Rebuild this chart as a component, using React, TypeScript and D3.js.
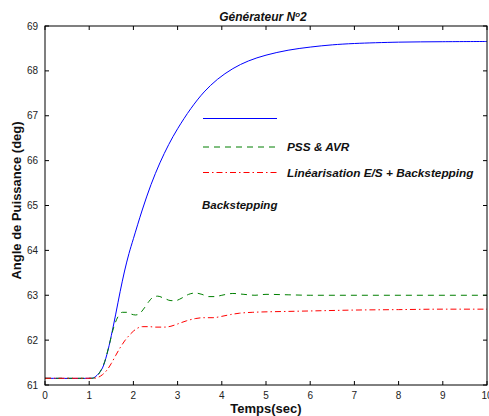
import React from "react";
import * as d3 from "d3";

const xTicks = [0, 1, 2, 3, 4, 5, 6, 7, 8, 9, 10];
const yTicks = [61, 62, 63, 64, 65, 66, 67, 68, 69];

const timeBlue = [0, 1.0, 1.1, 1.2, 1.3, 1.4, 1.5, 1.6, 1.7, 1.8, 1.9, 2.0, 2.2, 2.4, 2.6, 2.8, 3.0, 3.3, 3.6, 3.9, 4.25, 4.6, 5.0, 5.5, 6.0, 6.5, 7, 8, 9, 10];
const backstepping = [61.15, 61.15, 61.16, 61.24, 61.38, 61.68, 62.1, 62.58, 63.08, 63.54, 63.93, 64.26, 64.9, 65.47, 65.95, 66.36, 66.71, 67.16, 67.53, 67.81, 68.05, 68.22, 68.35, 68.46, 68.53, 68.58, 68.61, 68.64, 68.65, 68.655];

const timeGreen = [0, 1.05, 1.15, 1.25, 1.35, 1.45, 1.55, 1.65, 1.75, 1.85, 1.95, 2.05, 2.15, 2.25, 2.35, 2.45, 2.55, 2.7, 2.85, 2.95, 3.1, 3.25, 3.4, 3.55, 3.7, 3.85, 4.0, 4.25, 4.5, 4.75, 5.0, 5.5, 6, 10];
const pssAvr = [61.15, 61.15, 61.17, 61.3, 61.52, 61.88, 62.27, 62.52, 62.62, 62.62, 62.58, 62.56, 62.6, 62.72, 62.86, 62.96, 62.98, 62.93, 62.88, 62.88, 62.94, 63.02, 63.05, 63.02, 62.97, 62.97, 63.0, 63.04, 63.02, 63.0, 63.02, 63.01, 63.0, 63.0];

const timeRed = [0, 1.1, 1.2, 1.3, 1.4, 1.5, 1.6, 1.7, 1.8, 1.9, 2.0, 2.1, 2.2, 2.35, 2.5, 2.7, 2.85, 3.0, 3.2, 3.4, 3.6, 3.8, 4.0, 4.2, 4.4, 4.7, 5, 5.5, 6, 7, 8, 9, 10];
const linBackstepping = [61.15, 61.15, 61.17, 61.23, 61.33, 61.48, 61.66, 61.83, 61.98, 62.1, 62.2, 62.27, 62.3, 62.3, 62.29, 62.29, 62.31, 62.36, 62.43, 62.48, 62.5, 62.5, 62.53, 62.57, 62.6, 62.62, 62.63, 62.64, 62.65, 62.67, 62.68, 62.69, 62.69];

const legendLabels = ["", "PSS & AVR", "Linéarisation E/S + Backstepping"];
const extraLabel = "Backstepping";

const W = 489, H = 416;
const M = { left: 45, right: 487, top: 26, bottom: 385 };
const FONT = "'Liberation Sans', Arial, sans-serif";

export default function App() {
  const x = d3.scaleLinear().domain([0, 10]).range([M.left, M.right]);
  const y = d3.scaleLinear().domain([61, 69]).range([M.bottom, M.top]);
  const mkLine = (curve: d3.CurveFactory) =>
    d3
      .line<[number, number]>()
      .x((d) => x(d[0]))
      .y((d) => y(d[1]))
      .curve(curve);
  const smoothLine = mkLine(d3.curveCatmullRom.alpha(0.5));
  const monoLine = mkLine(d3.curveMonotoneX);

  const series = [
    { t: timeBlue, v: backstepping, color: "#0000ff", dash: undefined as string | undefined, gen: smoothLine },
    { t: timeGreen, v: pssAvr, color: "#007f00", dash: "6,5", gen: monoLine },
    { t: timeRed, v: linBackstepping, color: "#ff0000", dash: "6,3,1.5,3", gen: monoLine },
  ];

  const tickLen = 4;
  const legendX1 = 203, legendX2 = 277;
  const legendY = [118.5, 147, 172.5];

  return (
    <svg
      width={W}
      height={H}
      style={{ position: "absolute", left: 0, top: 0, background: "#fff" }}
      fontFamily={FONT}
    >
      <rect x={0} y={0} width={W} height={H} fill="#fff" />
      <defs>
        <clipPath id="plotclip">
          <rect x={M.left} y={M.top} width={M.right - M.left} height={M.bottom - M.top} />
        </clipPath>
      </defs>

      <g clipPath="url(#plotclip)">
        {series.map((s, i) => (
          <path
            key={i}
            d={s.gen(s.t.map((t, j) => [t, s.v[j]] as [number, number])) || ""}
            fill="none"
            stroke={s.color}
            strokeWidth={1}
            strokeDasharray={s.dash}
          />
        ))}
      </g>

      <rect
        x={M.left}
        y={M.top}
        width={M.right - M.left}
        height={M.bottom - M.top}
        fill="none"
        stroke="#000"
        strokeWidth={1}
      />

      {xTicks.map((t) => (
        <g key={"x" + t}>
          <line x1={x(t)} x2={x(t)} y1={M.bottom} y2={M.bottom - tickLen} stroke="#000" />
          <line x1={x(t)} x2={x(t)} y1={M.top} y2={M.top + tickLen} stroke="#000" />
          <text x={x(t)} y={399} fontSize={10} textAnchor="middle" fill="#222">
            {t}
          </text>
        </g>
      ))}

      {yTicks.map((v) => (
        <g key={"y" + v}>
          <line x1={M.left} x2={M.left + tickLen} y1={y(v)} y2={y(v)} stroke="#000" />
          <line x1={M.right} x2={M.right - tickLen} y1={y(v)} y2={y(v)} stroke="#000" />
          <text x={38} y={y(v) + 3.5} fontSize={10} textAnchor="end" fill="#222">
            {v}
          </text>
        </g>
      ))}

      <text x={263} y={21} fontSize={12} fontWeight="bold" fontStyle="italic" textAnchor="middle" fill="#111">
        Générateur N
        <tspan dy={-4} fontSize={8}>o</tspan>
        <tspan dy={4}>2</tspan>
      </text>

      <text x={266} y={413} fontSize={13} fontWeight="bold" textAnchor="middle" fill="#111">
        Temps(sec)
      </text>
      <text
        transform={`translate(21,${(M.top + M.bottom) / 2 - 5}) rotate(-90)`}
        fontSize={13}
        fontWeight="bold"
        textAnchor="middle"
        fill="#111"
      >
        Angle de Puissance (deg)
      </text>

      {series.map((s, i) => (
        <g key={"leg" + i}>
          <line
            x1={legendX1}
            x2={legendX2}
            y1={legendY[i]}
            y2={legendY[i]}
            stroke={s.color}
            strokeWidth={1}
            strokeDasharray={s.dash}
          />
          {legendLabels[i] && (
            <text
              x={287}
              y={legendY[i] + 4}
              fontSize={11.8}
              fontWeight="bold"
              fontStyle="italic"
              fill="#111"
            >
              {legendLabels[i]}
            </text>
          )}
        </g>
      ))}
      <text x={202} y={209} fontSize={11.5} fontWeight="bold" fontStyle="italic" fill="#111">
        {extraLabel}
      </text>
    </svg>
  );
}
